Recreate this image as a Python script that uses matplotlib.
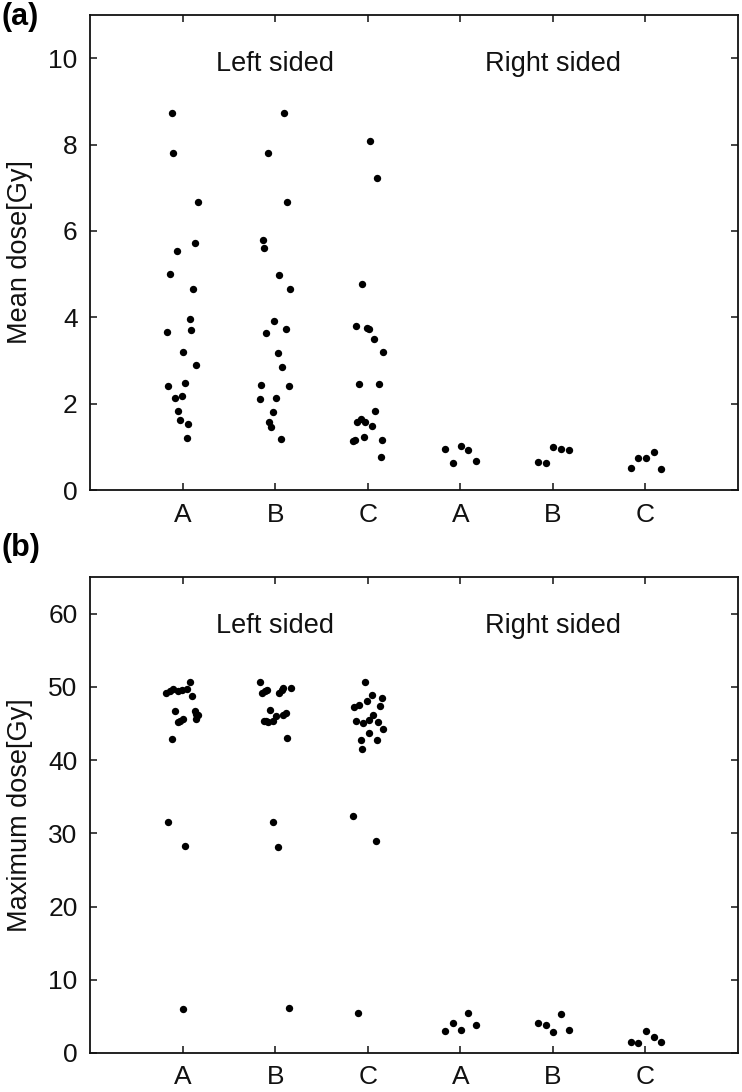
import matplotlib
matplotlib.use('Agg')
import matplotlib.pyplot as plt
import numpy as np

plt.rcParams['font.family'] = ['Liberation Sans', 'DejaVu Sans']

# x tick labels and group names
tick_labels = ['A', 'B', 'C', 'A', 'B', 'C']
side_names = ['Left sided', 'Right sided']

# (a) mean dose [Gy] per group, with horizontal jitter
mean_left_A = [8.74, 7.81, 6.68, 5.71, 5.53, 5.01, 4.66, 3.97, 3.66, 3.71, 3.20, 2.90, 2.42, 2.47, 2.12, 2.17, 1.83, 1.61, 1.52, 1.20]
mean_left_A_jit = [-0.118, -0.10, 0.166, 0.13, -0.064, -0.133, 0.112, 0.08, -0.168, 0.094, 0.004, 0.148, -0.154, 0.026, -0.082, -0.01, -0.046, -0.028, 0.055, 0.044]
mean_left_B = [8.74, 7.81, 6.66, 5.79, 5.61, 4.98, 4.66, 3.91, 3.63, 3.74, 3.17, 2.86, 2.44, 2.42, 2.10, 2.14, 1.80, 1.57, 1.47, 1.17]
mean_left_B_jit = [0.093, -0.08, 0.128, -0.134, -0.116, 0.042, 0.164, -0.008, -0.095, 0.114, 0.028, 0.078, -0.149, 0.15, -0.167, 0.006, -0.026, -0.063, -0.044, 0.064]
mean_left_C = [8.09, 7.22, 4.78, 3.79, 3.75, 3.72, 3.50, 3.20, 2.46, 2.46, 1.83, 1.57, 1.64, 1.58, 1.49, 1.13, 1.16, 1.22, 1.16, 0.77]
mean_left_C_jit = [0.025, 0.10, -0.062, -0.13, -0.011, 0.015, 0.065, 0.169, -0.093, 0.12, 0.083, -0.115, -0.075, -0.029, 0.043, -0.159, -0.136, -0.04, 0.151, 0.14]
mean_right_A = [0.95, 0.63, 1.02, 0.93, 0.67]
mean_right_B = [0.65, 0.62, 0.99, 0.94, 0.93]
mean_right_C = [0.50, 0.75, 0.75, 0.89, 0.49]

# (b) maximum dose [Gy]
max_left_A = [50.7, 49.2, 49.5, 49.7, 49.5, 49.6, 49.7, 48.8, 46.7, 45.4, 45.6, 46.7, 46.3, 46.1, 45.6, 45.2, 42.9, 31.6, 28.2, 6.0]
max_left_A_jit = [0.08, -0.18, -0.14, -0.10, -0.046, -0.01, 0.044, 0.098, -0.082, -0.028, 0.0, 0.134, 0.15, 0.17, 0.145, -0.05, -0.115, -0.155, 0.03, 0.01]
max_left_B = [50.7, 49.2, 49.5, 49.6, 49.2, 49.6, 49.8, 49.8, 46.9, 45.4, 45.2, 45.4, 46.0, 46.1, 46.4, 45.3, 43.0, 31.5, 28.1, 6.1]
max_left_B_jit = [-0.163, -0.145, -0.109, -0.084, 0.045, 0.071, 0.089, 0.168, -0.055, -0.12, -0.073, -0.026, 0.006, 0.089, 0.114, -0.10, 0.132, -0.028, 0.034, 0.151]
max_left_C = [50.7, 48.9, 48.1, 48.5, 47.4, 47.3, 47.5, 45.3, 45.1, 45.5, 46.1, 45.2, 44.2, 43.7, 42.7, 42.7, 41.5, 32.3, 28.9, 5.4]
max_left_C_jit = [-0.026, 0.046, -0.004, 0.155, 0.133, -0.148, -0.097, -0.13, -0.047, 0.01, 0.06, 0.115, 0.169, 0.01, -0.076, 0.097, -0.062, -0.159, 0.088, -0.107]
max_right_A = [2.96, 4.14, 3.19, 5.46, 3.87]
max_right_B = [4.14, 3.82, 2.91, 5.33, 3.19]
max_right_C = [1.46, 1.37, 3.05, 2.14, 1.55]

# right sided groups sit on an even spread
right_jit = [-0.161, -0.079, 0.005, 0.088, 0.172]


def panel(ax, groups, ylim, yticks, ylabel, letter, letter_y):
    for i, (vals, jit) in enumerate(groups):
        x = i + 1 + np.array(jit)
        ax.plot(x, vals, 'o', color='black', ms=5.3, mew=0, ls='none')
    ax.set_xlim(0, 7)
    ax.set_ylim(*ylim)
    ax.set_xticks(range(1, 7))
    ax.set_xticklabels(tick_labels)
    ax.set_yticks(yticks)
    ax.tick_params(direction='in', length=5, width=1.1, top=True, right=True,
                   labelsize=19, colors='#111111')
    ax.tick_params(axis='y', pad=9)
    ax.tick_params(axis='x', pad=9)
    for s in ax.spines.values():
        s.set_linewidth(1.3)
        s.set_color('#111111')
    ax.set_ylabel(ylabel, fontsize=19.5, color='#111111')
    ax.yaxis.set_label_coords(-0.088, 0.5)
    tr = ax.get_xaxis_transform()
    ax.text(2, 0.897, side_names[0], transform=tr, ha='center', va='center', fontsize=19.5, color='#111111')
    ax.text(5, 0.897, side_names[1], transform=tr, ha='center', va='center', fontsize=19.5, color='#111111')
    ax.figure.text(0.002, letter_y, letter, fontsize=22, fontweight='bold', ha='left', va='center')


fig = plt.figure(figsize=(7.42, 10.92), dpi=100)
ax1 = fig.add_axes([90 / 742, 1 - 490 / 1092, 648 / 742, 475 / 1092])
ax2 = fig.add_axes([90 / 742, 1 - 1053 / 1092, 648 / 742, 476 / 1092])

panel(ax1,
      [(mean_left_A, mean_left_A_jit), (mean_left_B, mean_left_B_jit), (mean_left_C, mean_left_C_jit),
       (mean_right_A, right_jit), (mean_right_B, right_jit), (mean_right_C, right_jit)],
      (0, 11), range(0, 11, 2), 'Mean dose[Gy]', '(a)', 1 - 17 / 1092)
panel(ax2,
      [(max_left_A, max_left_A_jit), (max_left_B, max_left_B_jit), (max_left_C, max_left_C_jit),
       (max_right_A, right_jit), (max_right_B, right_jit), (max_right_C, right_jit)],
      (0, 65), range(0, 61, 10), 'Maximum dose[Gy]', '(b)', 1 - 548 / 1092)

fig.savefig('out.png', dpi=100)
